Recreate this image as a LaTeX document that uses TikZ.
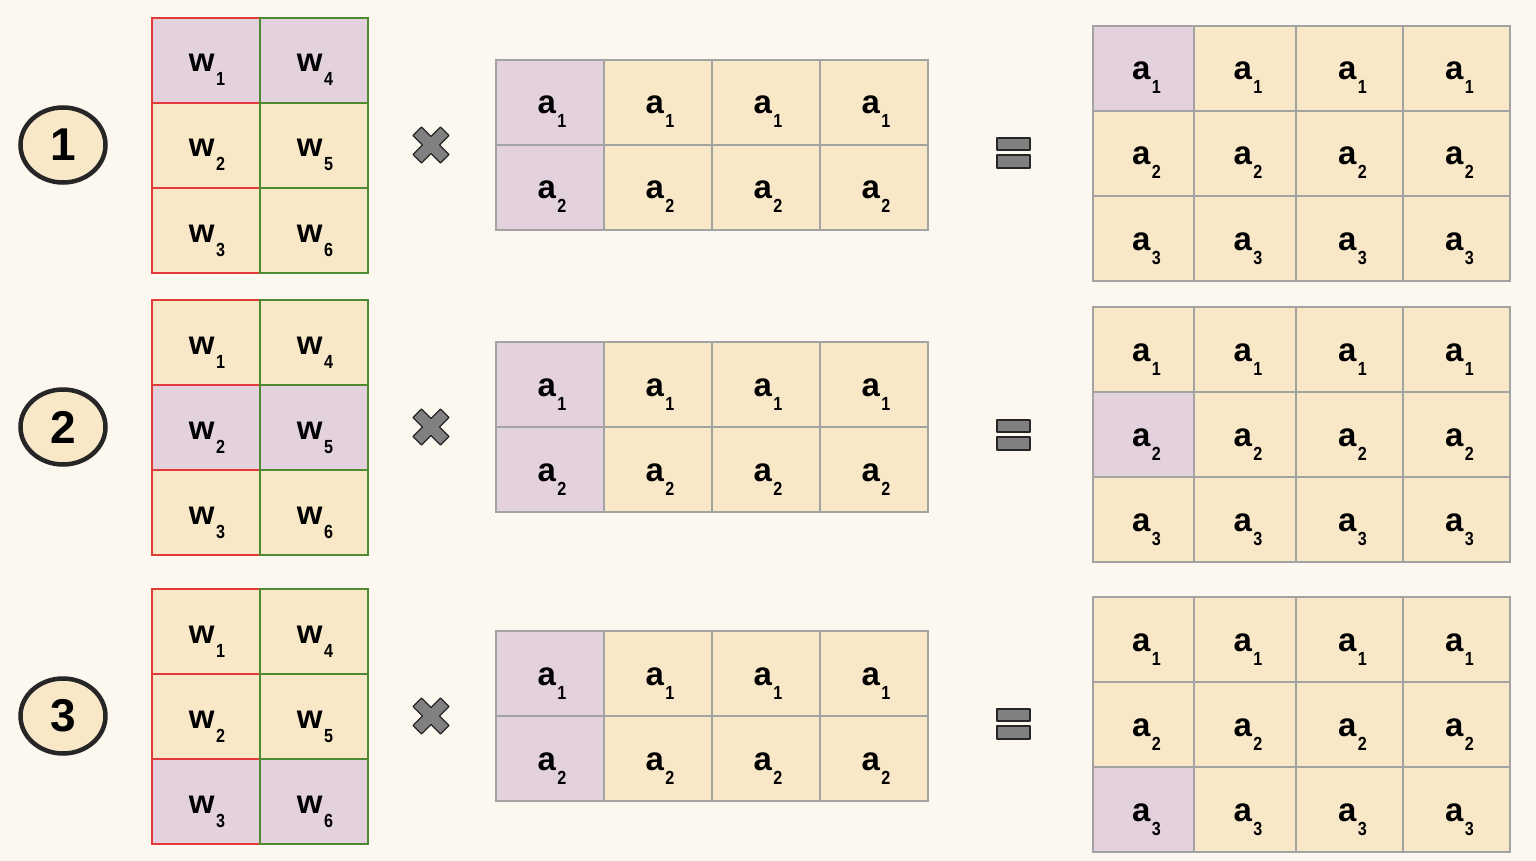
\documentclass[tikz,border=0pt]{standalone}
\usepackage{fontspec}
\setmainfont{Liberation Sans}
\usetikzlibrary{shapes.geometric}
\definecolor{bg}{HTML}{FCF8F0}
\definecolor{beige}{HTML}{F9E8C8}
\definecolor{lilac}{HTML}{E3D2DE}
\definecolor{gridgrey}{HTML}{A3A3A3}
\definecolor{wred}{HTML}{E23A3A}
\definecolor{wgreen}{HTML}{4F8A32}
\definecolor{signgrey}{HTML}{808080}
\definecolor{ink}{HTML}{262626}
\newcommand{\elem}[2]{#1\kern1.5pt\raisebox{-14pt}{\fontsize{19}{19}\selectfont\scalebox{0.85}[1]{#2}}}
\begin{document}
\begin{tikzpicture}[x=1pt,y=-1pt,
    cell/.style={line width=1.5pt, fill=beige, draw=gridgrey},
    lbl/.style={anchor=base, inner sep=0pt, font=\fontsize{33}{33}\selectfont\bfseries},
    num/.style={ellipse, draw=ink, line width=4.5pt, fill=beige, minimum width=85pt, minimum height=75pt,
        font=\fontsize{46}{46}\selectfont\bfseries},
    sign/.style={fill=signgrey, draw=ink, line width=1.2pt, line join=round}]
    \fill[bg] (0,0) rectangle (1536,861);

    \foreach \row/\wy/\ay/\ry/\cy in {1/18/60/26/145, 2/300/342/307/427, 3/589/631/597/716} {
        \node[num] (n\row) at (63,\cy) {\row};

        \foreach \i in {1,2,3} {
            \ifnum\i=\row \def\fc{lilac}\else\def\fc{beige}\fi
            \pgfmathtruncatemacro\k{\i+3}
            \draw[cell, fill=\fc, draw=wred] (152,\wy+85*\i-85) rectangle +(108,85);
            \draw[cell, fill=\fc, draw=wgreen] (260,\wy+85*\i-85) rectangle +(108,85);
            \node[lbl] (w\row-\i) at (207,\wy+85*\i-31) {\elem{w}{\i}};
            \node[lbl] (w\row-\k) at (315,\wy+85*\i-31) {\elem{w}{\k}};
        }

        \draw[sign, shift={(431,\cy)}, rotate=45] (6,19.5) -- (6,6) -- (19.5,6) -- (19.5,-6) -- (6,-6)
            -- (6,-19.5) -- (-6,-19.5) -- (-6,-6) -- (-19.5,-6) -- (-19.5,6) -- (-6,6) -- (-6,19.5) -- cycle;

        \foreach \i in {1,2} \foreach \j in {1,...,4} {
            \ifnum\j=1 \def\fc{lilac}\else\def\fc{beige}\fi
            \draw[cell, fill=\fc] (388+108*\j,\ay+85*\i-85) rectangle +(108,85);
            \node[lbl] (a\row-\i-\j) at (444+108*\j,\ay+85*\i-31) {\elem{a}{\i}};
        }

        \draw[sign] (997,\cy-7) rectangle (1030,\cy+5);
        \draw[sign] (997,\cy+10) rectangle (1030,\cy+23);

        \foreach \i in {1,2,3} \foreach \j/\xa/\xb in {1/1093/1194, 2/1194/1296, 3/1296/1403, 4/1403/1510} {
            \def\fc{beige}
            \ifnum\j=1 \ifnum\i=\row \def\fc{lilac}\fi\fi
            \draw[cell, fill=\fc] (\xa,\ry+85*\i-85) rectangle (\xb,\ry+85*\i);
            \node[lbl] (r\row-\i-\j) at ({(\xa+\xb)/2+3},\ry+85*\i-31) {\elem{a}{\i}};
        }
    }
\end{tikzpicture}
\end{document}
